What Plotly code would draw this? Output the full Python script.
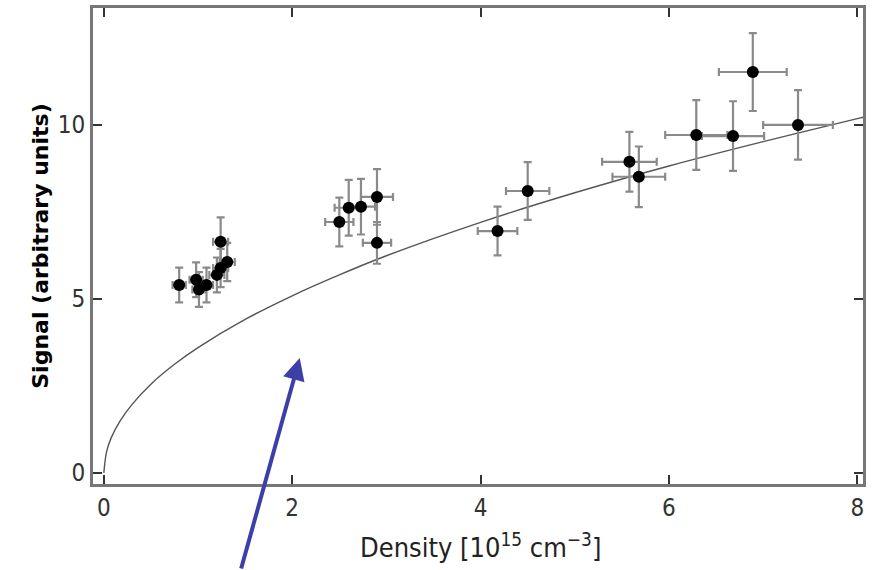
import plotly.graph_objects as go

# Data points
density = [0.80, 0.98, 1.01, 1.09, 1.20, 1.24, 1.31, 1.24,
           2.50, 2.60, 2.73, 2.90, 2.90,
           4.18, 4.50, 5.58, 5.68, 6.29, 6.68, 6.89, 7.37]
signal = [5.40, 5.55, 5.27, 5.40, 5.69, 5.89, 6.06, 6.64,
          7.21, 7.62, 7.65, 7.93, 6.61,
          6.95, 8.10, 8.94, 8.51, 9.71, 9.68, 11.52, 10.0]
density_err = [0.07, 0.07, 0.07, 0.07, 0.08, 0.08, 0.08, 0.08,
               0.15, 0.15, 0.15, 0.17, 0.15,
               0.21, 0.23, 0.29, 0.28, 0.33, 0.33, 0.36, 0.37]
signal_err = [0.5, 0.5, 0.5, 0.5, 0.5, 0.55, 0.55, 0.7,
              0.7, 0.8, 0.8, 0.8, 0.6,
              0.7, 0.83, 0.86, 0.87, 1.0, 1.0, 1.12, 1.0]

# Fit curve
curve_x = [0.0, 0.03, 0.08, 0.17, 0.3, 0.5, 0.75, 1.0, 1.5, 2.0, 2.5, 3.0, 4.0, 5.0, 6.0, 7.0, 8.0, 8.06]
curve_y = [0.0, 0.62, 1.02, 1.48, 1.97, 2.55, 3.12, 3.6, 4.41, 5.09, 5.69, 6.24, 7.2, 8.05, 8.82, 9.52, 10.18, 10.22]

x_ticks = [0, 2, 4, 6, 8]
y_ticks = [0, 5, 10]

fig = go.Figure()

fig.add_trace(go.Scatter(
    x=curve_x, y=curve_y, mode="lines", line_shape="spline",
    line=dict(color="#555555", width=1.4), hoverinfo="skip", showlegend=False))

fig.add_trace(go.Scatter(
    x=density, y=signal, mode="markers",
    marker=dict(color="black", size=12),
    error_x=dict(type="data", array=density_err, color="#8a8a8a", thickness=2.2, width=4),
    error_y=dict(type="data", array=signal_err, color="#8a8a8a", thickness=2.2, width=4),
    showlegend=False))

tickfont = dict(family="DejaVu Sans Condensed, Liberation Sans Narrow, sans-serif",
                size=24, color="#333333")

fig.update_xaxes(range=[-0.115, 8.06], tickvals=x_ticks, ticks="inside", ticklen=9,
                 tickwidth=2, tickcolor="#333333", showline=True, linewidth=3,
                 linecolor="#777777", mirror="ticks", showgrid=False, zeroline=False,
                 tickfont=tickfont)
fig.update_yaxes(range=[-0.32, 13.36], tickvals=y_ticks, ticks="inside", ticklen=9,
                 tickwidth=2, tickcolor="#333333", showline=True, linewidth=3,
                 linecolor="#777777", mirror="ticks", showgrid=False, zeroline=False,
                 tickfont=tickfont)

fig.add_annotation(xref="paper", yref="paper", x=-0.088, y=0.5, textangle=-90,
                   text="<b>Signal (arbitrary units)</b>", showarrow=False,
                   font=dict(family="DejaVu Sans", size=22, color="black"))
fig.add_annotation(xref="x", yref="paper", x=4, y=-0.13, yanchor="middle",
                   text="Density [10<sup>15</sup> cm<sup>\u22123</sup>]", showarrow=False,
                   font=dict(family="DejaVu Sans Condensed, Liberation Sans Narrow, sans-serif",
                             size=27, color="#222222"))

fig.add_annotation(x=2.08, y=3.30, xref="x", yref="y", ax=-59, ay=212,
                   showarrow=True, arrowhead=2, arrowsize=1.1, arrowwidth=4,
                   arrowcolor="#3d3fa8", standoff=0, text="")

fig.update_layout(width=885, height=570,
                  margin=dict(l=93, r=22, t=8, b=86, autoexpand=False),
                  plot_bgcolor="white", paper_bgcolor="white")

fig.write_html("out.html", config={"displayModeBar": False},
               post_script="document.body.style.margin='0';")
